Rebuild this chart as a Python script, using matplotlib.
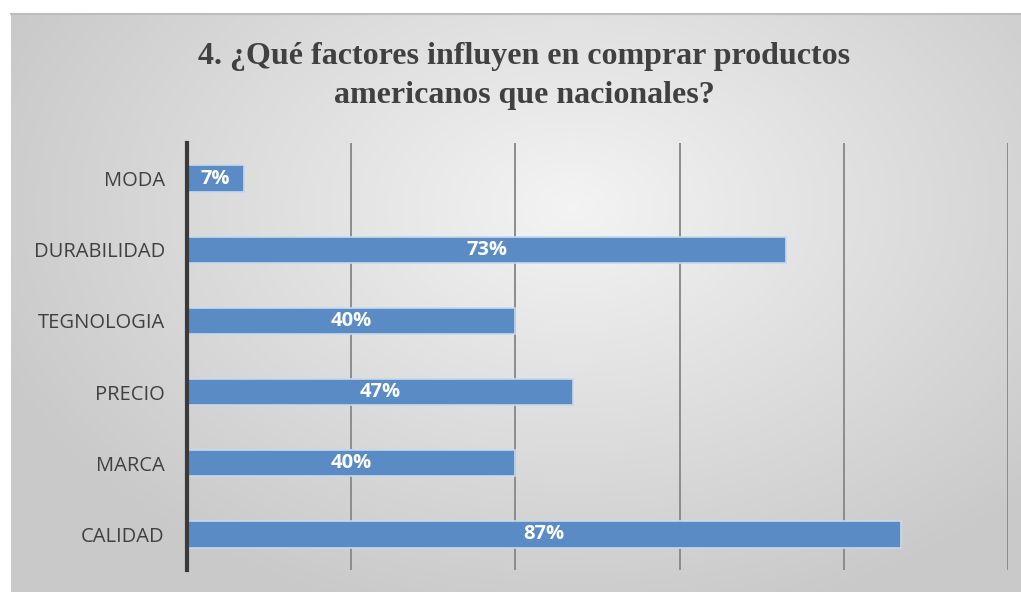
import numpy as np
import matplotlib.pyplot as plt

categorias = ['CALIDAD', 'MARCA', 'PRECIO', 'TEGNOLOGIA', 'DURABILIDAD', 'MODA']
valores = [87, 40, 47, 40, 73, 7]
etiquetas = ['87%', '40%', '47%', '40%', '73%', '7%']
ticks_x = [0, 20, 40, 60, 80, 100]

W, H = 1021, 592
fig = plt.figure(figsize=(W / 100, H / 100), dpi=100)
fig.patch.set_facecolor('white')

# fondo con degradado radial (estilo Excel)
bg = fig.add_axes([11 / W, 0, 1 - 11 / W, (592 - 14) / H])
yy, xx = np.mgrid[-1:1:300j, -1:1:500j]
r = np.sqrt((xx * 0.9 - 0.1) ** 2 + (yy * 0.75 + 0.25) ** 2)
r = np.clip(r / 1.1, 0, 1)
light, dark = 0.955, 0.79
img = light - (light - dark) * r
bg.imshow(np.dstack([img, img, img]), aspect='auto', extent=[0, 1, 0, 1])
bg.set_xticks([])
bg.set_yticks([])
for s in ['left', 'bottom', 'right']:
    bg.spines[s].set_visible(False)
bg.spines['top'].set_color('#bdbdbd')
bg.spines['top'].set_linewidth(1.5)

ax = fig.add_axes([187 / W, 1 - 570 / H, (1008 - 187) / W, (570 - 143) / H])
ax.patch.set_alpha(0)

y = np.arange(len(categorias))
ax.barh(y, valores, height=0.37, color='#5b8bc4', edgecolor='#c9d8ec', linewidth=1.2, zorder=3)
for yi, v, t in zip(y, valores, etiquetas):
    ax.text(v / 2, yi, t, ha='center', va='center', color='white', fontsize=14.5,
            fontweight='bold', family='Open Sans', zorder=4)

ax.set_xlim(0, 100)
ax.set_ylim(-0.5, len(categorias) - 0.5)
ax.set_xticks(ticks_x)
ax.set_xticklabels([])
ax.tick_params(axis='x', length=0)
ax.tick_params(axis='y', length=0, pad=16)
ax.set_yticks(y)
ax.set_yticklabels(categorias, fontsize=14.5, family='Open Sans', color='#404040')
ax.grid(axis='x', color='#8c8c8c', linewidth=1.4, zorder=1)
for s in ['top', 'right', 'bottom']:
    ax.spines[s].set_visible(False)
ax.spines['left'].set_color('#3a3a3a')
ax.spines['left'].set_linewidth(3)
ax.spines['left'].set_zorder(5)

fig.text(524 / W, 1 - 76 / H, '4. ¿Qué factores influyen en comprar productos\namericanos que nacionales?',
         ha='center', va='center', fontsize=23, fontweight='bold', family='Liberation Serif',
         color='#404040', linespacing=1.45)

fig.savefig('out.png', dpi=100)
